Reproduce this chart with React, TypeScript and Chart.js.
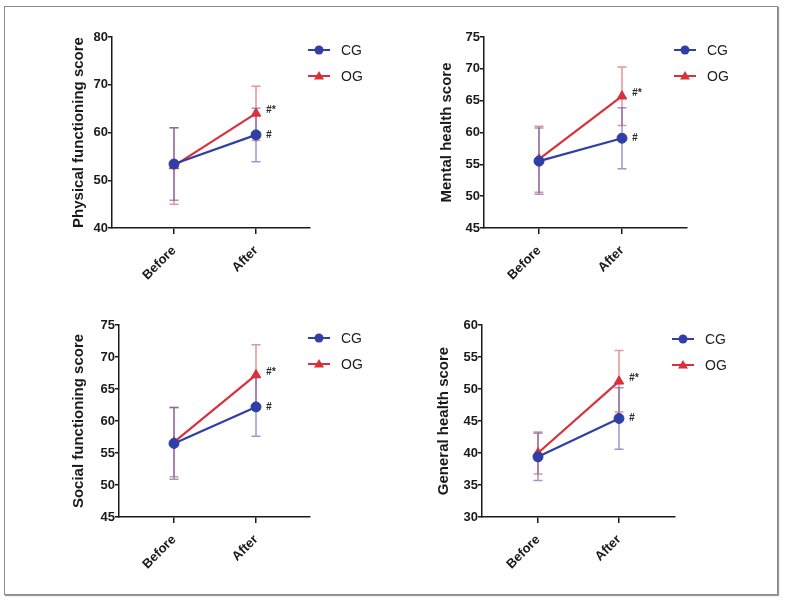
import { useEffect, useRef } from "react";
import { Chart, registerables } from "chart.js";

Chart.register(...registerables);

// ---- data ----
const phases = ["Before", "After"];
const seriesNames = ["CG", "OG"];

const physicalCG = [53.4, 59.5];
const physicalCGsd = [7.6, 5.6];
const physicalOG = [53.0, 64.0];
const physicalOGsd = [8.0, 5.7];

const mentalCG = [55.5, 59.1];
const mentalCGsd = [5.2, 4.8];
const mentalOG = [55.8, 65.7];
const mentalOGsd = [5.2, 4.6];

const socialCG = [56.5, 62.2];
const socialCGsd = [5.6, 4.6];
const socialOG = [56.7, 67.2];
const socialOGsd = [5.4, 4.7];

const generalCG = [39.4, 45.4];
const generalCGsd = [3.7, 4.8];
const generalOG = [40.0, 51.2];
const generalOGsd = [3.3, 4.8];

// significance marks next to each point
const cgMarks = ["", "#"];
const ogMarks = ["", "#*"];

// ---- styling ----
const FONT = "'Liberation Sans', Arial, Helvetica, sans-serif";
const INK = "#1a1a1a";
const BLUE = "#2f3fa6";
const RED = "#d8313b";
const BLUE_ERR = "rgba(70, 70, 170, 0.55)";
const RED_ERR = "rgba(215, 60, 60, 0.55)";
const X_AXIS_H = 62;
const TITLE_SIZE = 15;

type Rect = { x: number; y: number; w: number; h: number };
type PanelDef = {
  title: string;
  cg: number[];
  cgSd: number[];
  og: number[];
  ogSd: number[];
  yMin: number;
  yMax: number;
  yStep: number;
  box: Rect;
  plot: { l: number; r: number; t: number; b: number };
  beforeX: number;
  afterX: number;
  titleX: number;
  legendX: number;
  legendY: number;
};

const panels: PanelDef[] = [
  {
    title: "Physical functioning score",
    cg: physicalCG, cgSd: physicalCGsd, og: physicalOG, ogSd: physicalOGsd,
    yMin: 40, yMax: 80, yStep: 10,
    box: { x: 0, y: 0, w: 393, h: 300 },
    plot: { l: 112, r: 310, t: 37, b: 228 },
    beforeX: 174, afterX: 256, titleX: 79, legendX: 319, legendY: 50,
  },
  {
    title: "Mental health score",
    cg: mentalCG, cgSd: mentalCGsd, og: mentalOG, ogSd: mentalOGsd,
    yMin: 45, yMax: 75, yStep: 5,
    box: { x: 393, y: 0, w: 393, h: 300 },
    plot: { l: 484, r: 687, t: 37, b: 228 },
    beforeX: 539, afterX: 622, titleX: 447, legendX: 685, legendY: 50,
  },
  {
    title: "Social functioning score",
    cg: socialCG, cgSd: socialCGsd, og: socialOG, ogSd: socialOGsd,
    yMin: 45, yMax: 75, yStep: 5,
    box: { x: 0, y: 300, w: 393, h: 300 },
    plot: { l: 119, r: 310, t: 325, b: 517 },
    beforeX: 174, afterX: 256, titleX: 79, legendX: 319, legendY: 338,
  },
  {
    title: "General health score",
    cg: generalCG, cgSd: generalCGsd, og: generalOG, ogSd: generalOGsd,
    yMin: 30, yMax: 60, yStep: 5,
    box: { x: 393, y: 300, w: 393, h: 300 },
    plot: { l: 482, r: 675, t: 325, b: 517 },
    beforeX: 538, afterX: 619, titleX: 444, legendX: 683, legendY: 339,
  },
];

function ScorePanel({ def }: { def: PanelDef }) {
  const ref = useRef<HTMLCanvasElement | null>(null);

  useEffect(() => {
    const canvas = ref.current;
    if (!canvas) return;
    const { box, plot } = def;
    const span = def.afterX - def.beforeX;
    const xMin = -(def.beforeX - plot.l) / span;
    const xMax = 1 + (plot.r - def.afterX) / span;
    const titleLine = TITLE_SIZE * 1.2;

    const series = [
      { name: seriesNames[0], mean: def.cg, sd: def.cgSd, color: BLUE, err: BLUE_ERR, style: "circle", marks: cgMarks },
      { name: seriesNames[1], mean: def.og, sd: def.ogSd, color: RED, err: RED_ERR, style: "triangle", marks: ogMarks },
    ];

    const extras = {
      id: "panelExtras",
      beforeDatasetsDraw(chart: any) {
        const { ctx, scales } = chart;
        const xs = scales.x;
        const ys = scales.y;
        ctx.save();
        ctx.lineWidth = 1.5;
        // OG bars first so the CG bars sit above them
        [...series].reverse().forEach((s) => {
          ctx.strokeStyle = s.err;
          s.mean.forEach((m, i) => {
            const x = xs.getPixelForValue(i);
            const top = ys.getPixelForValue(m + s.sd[i]);
            const bot = ys.getPixelForValue(m - s.sd[i]);
            ctx.beginPath();
            ctx.moveTo(x, top);
            ctx.lineTo(x, bot);
            ctx.moveTo(x - 4.5, top);
            ctx.lineTo(x + 4.5, top);
            ctx.moveTo(x - 4.5, bot);
            ctx.lineTo(x + 4.5, bot);
            ctx.stroke();
          });
        });
        ctx.restore();
      },
      afterDatasetsDraw(chart: any) {
        const { ctx, scales } = chart;
        const xs = scales.x;
        const ys = scales.y;
        ctx.save();
        ctx.fillStyle = "#2a2a2a";
        ctx.font = `italic bold 10px ${FONT}`;
        ctx.textAlign = "left";
        ctx.textBaseline = "middle";
        series.forEach((s, k) => {
          s.marks.forEach((mk, i) => {
            if (!mk) return;
            const x = xs.getPixelForValue(i);
            const y = ys.getPixelForValue(s.mean[i]);
            ctx.fillText(mk, x + 10, y + (k === 1 ? -3 : 0));
          });
        });
        ctx.restore();
      },
      afterDraw(chart: any) {
        const { ctx } = chart;
        const cx = def.legendX - box.x;
        ctx.save();
        series.forEach((s, k) => {
          const y = def.legendY - box.y + k * 26;
          ctx.strokeStyle = s.color;
          ctx.fillStyle = s.color;
          ctx.lineWidth = 2;
          ctx.beginPath();
          ctx.moveTo(cx - 11, y);
          ctx.lineTo(cx + 11, y);
          ctx.stroke();
          if (s.style === "circle") {
            ctx.beginPath();
            ctx.arc(cx, y, 4.5, 0, Math.PI * 2);
            ctx.fill();
          } else {
            ctx.beginPath();
            ctx.moveTo(cx, y - 5);
            ctx.lineTo(cx + 5, y + 3.5);
            ctx.lineTo(cx - 5, y + 3.5);
            ctx.closePath();
            ctx.fill();
          }
          ctx.fillStyle = "#222";
          ctx.font = `14px ${FONT}`;
          ctx.textAlign = "left";
          ctx.textBaseline = "middle";
          ctx.fillText(s.name, cx + 22, y + 1);
        });
        ctx.restore();
      },
    };

    const chart = new Chart(canvas, {
      type: "line",
      data: {
        datasets: series.map((s) => ({
          label: s.name,
          data: s.mean.map((y, i) => ({ x: i, y })),
          borderColor: s.color,
          backgroundColor: s.color,
          borderWidth: 2.2,
          pointStyle: s.style as any,
          pointRadius: s.style === "circle" ? 5 : 5.5,
          pointBorderWidth: 1,
          tension: 0,
          clip: false as any,
        })),
      },
      options: {
        animation: false,
        responsive: false,
        maintainAspectRatio: false,
        events: [],
        layout: {
          padding: {
            left: 0,
            right: box.x + box.w - plot.r,
            top: plot.t - box.y,
            bottom: box.y + box.h - plot.b - X_AXIS_H,
          },
        },
        plugins: {
          legend: { display: false },
          tooltip: { enabled: false },
        },
        scales: {
          x: {
            type: "linear",
            min: xMin,
            max: xMax,
            afterBuildTicks: (axis: any) => {
              axis.ticks = phases.map((_, i) => ({ value: i }));
            },
            afterFit: (axis: any) => {
              axis.height = X_AXIS_H;
            },
            ticks: {
              callback: (v: any) => phases[Math.round(Number(v))] ?? "",
              minRotation: 45,
              maxRotation: 45,
              color: INK,
              padding: 9,
              font: { family: FONT, size: 13, weight: "bold" },
            },
            grid: { drawOnChartArea: false, tickLength: 6, color: INK, lineWidth: 1.5 },
            border: { color: INK, width: 1.5 },
          },
          y: {
            min: def.yMin,
            max: def.yMax,
            afterFit: (axis: any) => {
              axis.width = plot.l - box.x;
            },
            ticks: {
              stepSize: def.yStep,
              color: INK,
              padding: 0,
              font: { family: FONT, size: 13, weight: "bold" },
            },
            grid: { drawOnChartArea: false, tickLength: 4, color: INK, lineWidth: 1.5 },
            border: { color: INK, width: 1.5 },
            title: {
              display: true,
              text: def.title,
              color: INK,
              font: { family: FONT, size: TITLE_SIZE, weight: "bold", lineHeight: 1.2 },
              padding: { top: def.titleX - box.x - titleLine / 2, bottom: 0 },
            },
          },
        },
      } as any,
      plugins: [extras],
    });

    return () => chart.destroy();
  }, [def]);

  return (
    <canvas
      ref={ref}
      width={def.box.w}
      height={def.box.h}
      style={{
        position: "absolute",
        left: def.box.x,
        top: def.box.y,
        width: def.box.w,
        height: def.box.h,
      }}
    />
  );
}

export default function App() {
  return (
    <div
      style={{
        position: "fixed",
        left: 0,
        top: 0,
        width: 786,
        height: 600,
        background: "#fff",
        overflow: "hidden",
      }}
    >
      <div
        style={{
          position: "absolute",
          left: 4,
          top: 6,
          width: 772,
          height: 587,
          border: "1px solid #8a8a8a",
          boxShadow: "1px 1px 1px #9a9a9a",
        }}
      />
      {panels.map((p) => (
        <ScorePanel key={p.title} def={p} />
      ))}
    </div>
  );
}
